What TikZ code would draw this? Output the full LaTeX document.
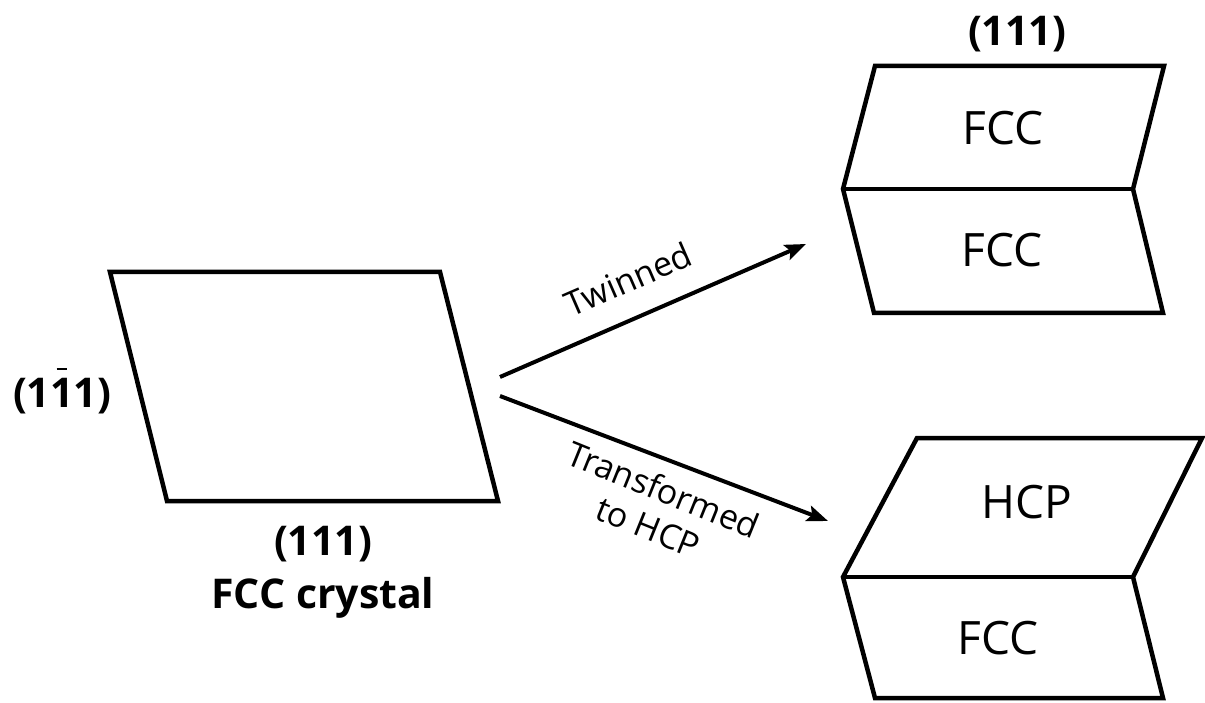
\documentclass[tikz,border=0pt]{standalone}
\usepackage{fontspec}
\setmainfont{Open Sans}
\usetikzlibrary{arrows.meta}
\newcommand{\barone}{\ooalign{1\cr\hidewidth\raisebox{0.9em}{\rule{0.26em}{0.07em}}\hidewidth\cr}}
\begin{document}
\begin{tikzpicture}[x=1pt,y=-1pt,
  crystal/.style={line width=4.5pt,line join=miter},
  conn/.style={line width=4pt,-{Stealth[length=21pt,width=16pt,inset=4pt]}},
  lbl/.style={font=\fontsize{41}{44}\selectfont\bfseries,inner sep=0pt},
  txt/.style={font=\fontsize{46}{50}\selectfont,inner sep=0pt},
  arr/.style={font=\fontsize{34}{40}\selectfont,inner sep=0pt,align=center}]
\useasboundingbox (0,0) rectangle (1205,703);
% left parallelogram
\draw[crystal] (110,272) -- (440,272) -- (498,501) -- (167,501) -- cycle;
\node[lbl] (side) at (62,396) {(1\barone1)};
\node[lbl] (bot) at (323,544) {(111)};
\node[lbl] (cap) at (323,598) {FCC crystal};
% top-right twinned
\draw[crystal] (875,66) -- (1164,66) -- (1133,189) -- (1163,313) -- (874,313) -- (843,189) -- cycle;
\draw[crystal] (843,189) -- (1133,189);
\node[lbl] (top) at (1017,34) {(111)};
\node[txt] (f1) at (1003,128) {FCC};
\node[txt] (f2) at (1002,250) {FCC};
% bottom-right transformed
\draw[crystal] (917,438) -- (1202,438) -- (1133,577) -- (1163,698) -- (875,698) -- (843,577) -- cycle;
\draw[crystal] (843,577) -- (1133,577);
\node[txt] (h1) at (1027,502) {HCP};
\node[txt] (f3) at (998,638) {FCC};
% arrows
\coordinate (s1) at (500,377);
\coordinate (e1) at (806,244);
\coordinate (s2) at (500,396);
\coordinate (e2) at (828,521);
\draw[conn] (s1) -- (e1);
\draw[conn] (s2) -- (e2);
\node[arr,rotate=23.5] (tw) at (628,279) {Twinned};
\node[arr,rotate=-22] (tr) at (656,508) {Transformed\\to HCP};
\end{tikzpicture}
\end{document}
